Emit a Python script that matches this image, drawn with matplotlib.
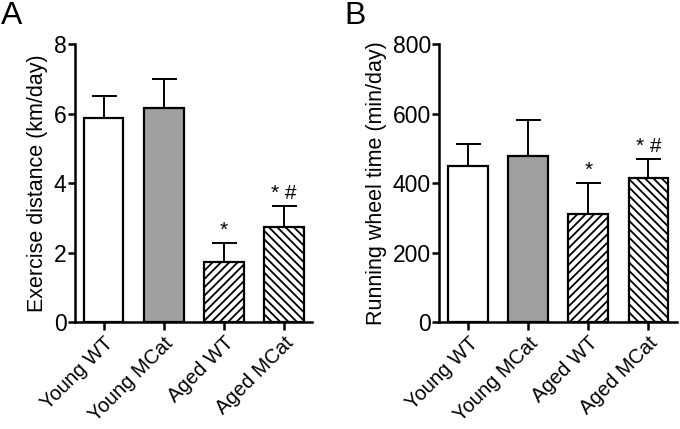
import numpy as np
import matplotlib.pyplot as plt

plt.rcParams['font.family'] = ['Liberation Sans', 'DejaVu Sans']
plt.rcParams['hatch.linewidth'] = 1.3

groups = ['Young WT', 'Young MCat', 'Aged WT', 'Aged MCat']
fills = ['white', '#a0a0a0', 'white', 'white']
hatches = ['', '', '////', '\\\\\\\\']

dist_mean = [5.87, 6.15, 1.73, 2.75]
dist_sem = [0.65, 0.85, 0.54, 0.58]
dist_marks = ['', '', '*', '* #']

time_mean = [450, 478, 310, 415]
time_sem = [62, 104, 90, 55]
time_marks = ['', '', '*', '* #']


def panel(ax, means, errs, marks, ylabel, ymax, step, letter, lx):
    x = np.arange(len(groups))
    ax.bar(x, means, width=0.66, color=fills, edgecolor='black',
           linewidth=1.6, hatch=hatches, zorder=2)
    ax.errorbar(x, means, yerr=[np.zeros(len(errs)), errs], fmt='none',
                ecolor='black', elinewidth=1.4, capsize=9, capthick=1.4, zorder=1)
    for xi, m, e, t in zip(x, means, errs, marks):
        if t:
            ax.text(xi, m + e + ymax * 0.012, t, ha='center', va='bottom', fontsize=15)
    ax.set_xlim(-0.48, 3.47)
    ax.set_ylim(0, ymax)
    ax.set_yticks(np.arange(0, ymax + 1, step))
    ax.set_xticks(x)
    ax.set_xticklabels(groups, rotation=45, ha='right', rotation_mode='anchor', fontsize=14.5)
    ax.set_ylabel(ylabel, fontsize=15.5, labelpad=4)
    for s in ['top', 'right']:
        ax.spines[s].set_visible(False)
    for s in ['left', 'bottom']:
        ax.spines[s].set_linewidth(1.8)
    ax.tick_params(axis='y', labelsize=16.5, width=1.8, length=5, pad=1)
    ax.tick_params(axis='x', width=1.8, length=6, pad=2)
    ax.text(lx, 1.155, letter, transform=ax.transAxes, fontsize=23,
            ha='left', va='top')


fig = plt.figure(figsize=(6.8, 4.29), dpi=100)
ax1 = fig.add_axes([0.110, 0.249, 0.349, 0.648])
ax2 = fig.add_axes([0.646, 0.249, 0.349, 0.648])

panel(ax1, dist_mean, dist_sem, dist_marks, 'Exercise distance (km/day)', 8, 2, 'A', -0.31)
panel(ax2, time_mean, time_sem, time_marks, 'Running wheel time (min/day)', 800, 200, 'B', -0.40)

fig.savefig('out.png', dpi=100)
